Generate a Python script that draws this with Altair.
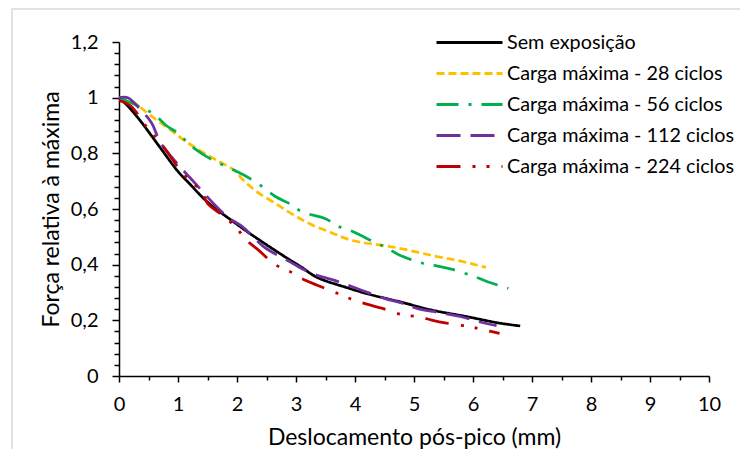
import altair as alt
import pandas as pd

series = ["Sem exposição", "Carga máxima - 28 ciclos", "Carga máxima - 56 ciclos",
          "Carga máxima - 112 ciclos", "Carga máxima - 224 ciclos"]
colors = ["#000000", "#FFC000", "#00B050", "#7030A0", "#C00000"]
dashes = [[1, 0], [8, 4], [22, 10, 3, 10], [24, 10], [24, 12, 3, 11, 3, 12]]

x_sem = [0, 0.15, 0.35, 0.7, 1.0, 1.2, 1.5, 2.0, 2.3, 2.8, 3.1, 3.35, 3.9, 4.25, 4.75, 5.3, 5.9, 6.45, 6.8]
y_sem = [1.0, 0.97, 0.92, 0.82, 0.735, 0.69, 0.625, 0.545, 0.5, 0.43, 0.39, 0.355, 0.315, 0.293, 0.267, 0.237, 0.213, 0.19, 0.18]

x_28 = [0, 0.2, 0.45, 0.7, 0.9, 1.15, 1.45, 1.7, 1.95, 2.1, 2.35, 2.65, 2.95, 3.25, 3.6, 3.9, 4.2, 4.55, 4.95, 5.35, 5.7, 6.0, 6.22]
y_28 = [1.0, 0.99, 0.95, 0.91, 0.88, 0.84, 0.80, 0.77, 0.74, 0.705, 0.66, 0.62, 0.58, 0.545, 0.515, 0.49, 0.477, 0.467, 0.45, 0.431, 0.417, 0.402, 0.39]

x_56 = [0, 0.35, 0.6, 0.8, 1.0, 1.15, 1.3, 1.55, 1.9, 2.1, 2.35, 2.65, 2.9, 3.1, 3.5, 3.7, 3.95, 4.3, 4.55, 4.75, 5.15, 5.4, 5.65, 6.05, 6.3, 6.6]
y_56 = [1.0, 0.968, 0.94, 0.90, 0.872, 0.842, 0.814, 0.78, 0.745, 0.724, 0.692, 0.645, 0.618, 0.59, 0.565, 0.539, 0.52, 0.484, 0.459, 0.435, 0.405, 0.395, 0.383, 0.355, 0.335, 0.315]

x_112 = [0, 0.15, 0.35, 0.55, 0.7, 1.0, 1.3, 1.6, 1.85, 2.1, 2.45, 2.9, 3.25, 3.7, 4.1, 4.5, 4.8, 5.05, 5.45, 5.8, 6.1, 6.4]
y_112 = [1.0, 1.0, 0.96, 0.91, 0.84, 0.76, 0.69, 0.62, 0.57, 0.535, 0.465, 0.41, 0.37, 0.34, 0.309, 0.279, 0.262, 0.243, 0.227, 0.213, 0.195, 0.181]

x_224 = [0, 0.2, 0.45, 0.65, 0.8, 1.0, 1.2, 1.4, 1.5, 1.8, 2.0, 2.15, 2.35, 2.65, 2.9, 3.1, 3.35, 3.7, 3.95, 4.2, 4.45, 4.8, 5.1, 5.3, 5.55, 5.95, 6.2, 6.45]
y_224 = [0.99, 0.97, 0.9, 0.85, 0.81, 0.75, 0.7, 0.665, 0.62, 0.57, 0.53, 0.49, 0.455, 0.40, 0.375, 0.35, 0.327, 0.297, 0.275, 0.258, 0.244, 0.22, 0.212, 0.201, 0.19, 0.177, 0.165, 0.153]

x_major = list(range(0, 11))
x_minor = [i + 0.5 for i in range(10)]
y_major = [0, 0.2, 0.4, 0.6, 0.8, 1, 1.2]
y_minor = [round(i * 0.04, 2) for i in range(31) if i % 5 != 0]

rows = []
for name, xs, ys in zip(series, [x_sem, x_28, x_56, x_112, x_224], [y_sem, y_28, y_56, y_112, y_224]):
    for i, (a, b) in enumerate(zip(xs, ys)):
        rows.append({"serie": name, "x": a, "y": b, "ordem": i})
df = pd.DataFrame(rows)

FONT = "Lato"
xscale = alt.Scale(domain=[0, 10], nice=False, zero=False)
yscale = alt.Scale(domain=[0, 1.2], nice=False, zero=False)

leg = alt.Legend(title=None, orient="none", legendX=338, legendY=-12, symbolType="M-3,0H3",
                 symbolSize=484, symbolStrokeWidth=3, labelFont=FONT, labelFontSize=19.8,
                 labelColor="black", rowPadding=8, labelOffset=25, padding=0, labelLimit=400)

lines = alt.Chart(df).mark_line(strokeWidth=2.75, interpolate="catmull-rom").encode(
    x=alt.X("x:Q", scale=xscale,
            axis=alt.Axis(orient="bottom", values=x_major, title="Deslocamento pós-pico (mm)",
                          tickSize=6, labelPadding=12, labelFlush=False, titleY=50, grid=False)),
    y=alt.Y("y:Q", scale=yscale,
            axis=alt.Axis(orient="left", values=y_major, title="Força relativa à máxima",
                          tickSize=7, labelPadding=14, labelFlush=False, titleX=-56, grid=False,
                          labelExpr="replace(toString(datum.value), '.', ',')")),
    color=alt.Color("serie:N", scale=alt.Scale(domain=series, range=colors), legend=leg),
    strokeDash=alt.StrokeDash("serie:N", scale=alt.Scale(domain=series, range=dashes), legend=leg),
    order="ordem:Q",
)

minor = alt.Chart(df).mark_line(opacity=0).encode(
    x=alt.X("x:Q", scale=xscale,
            axis=alt.Axis(orient="bottom", values=x_minor, labels=False, domain=False,
                          tickSize=4, title=None, grid=False)),
    y=alt.Y("y:Q", scale=yscale,
            axis=alt.Axis(orient="left", values=y_minor, labels=False, domain=False,
                          tickSize=5, title=None, grid=False)),
)

frame = alt.Chart(alt.Data(values=[{"a": 1}])).mark_rect(
    fill=None, stroke="#D9D9D9", strokeWidth=1.5
).encode(x=alt.value(-107), y=alt.value(-33), x2=alt.value(700), y2=alt.value(500))

chart = alt.layer(frame, lines, minor).resolve_axis(x="independent", y="independent").properties(
    width=590, height=334,
    padding={"left": 111, "top": 34, "right": 31, "bottom": 73},
    autosize=alt.AutoSizeParams(type="none"),
    background="white",
).configure_view(stroke=None).configure_axis(
    domainColor="black", domainWidth=1.5, tickColor="black", tickWidth=1.5,
    labelColor="black", labelFont=FONT, labelFontSize=20,
    titleColor="black", titleFont=FONT, titleFontSize=23, titleFontWeight="normal",
)

chart.save("out.html", embed_options={"renderer": "svg", "actions": False})
